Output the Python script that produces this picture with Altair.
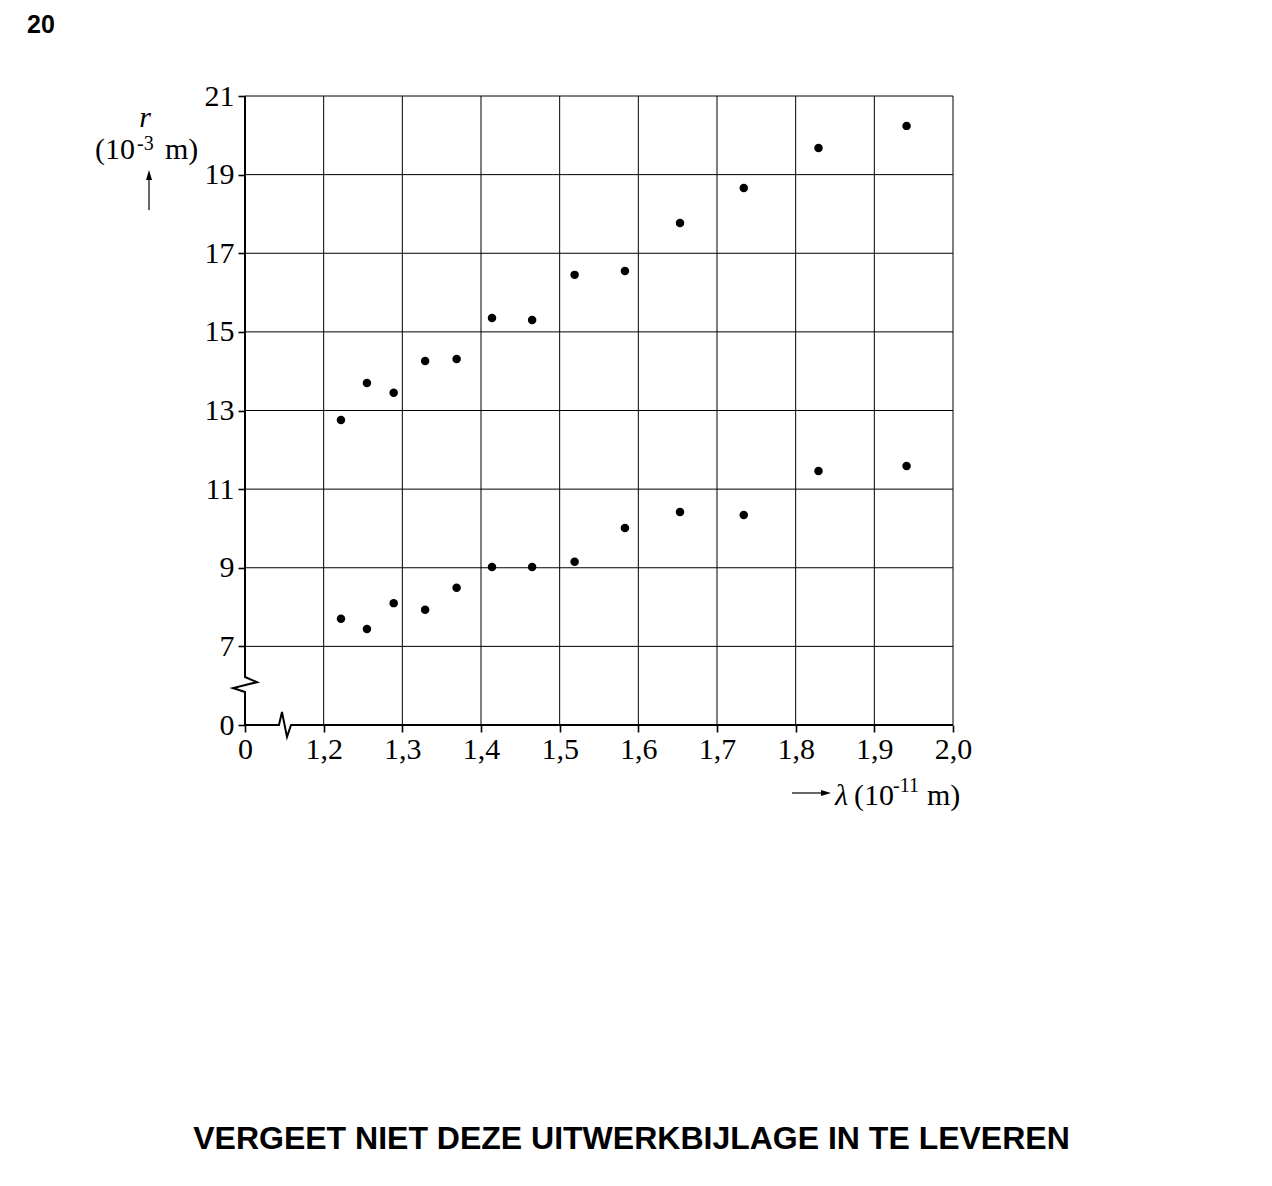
import altair as alt
import pandas as pd

# ---- data ----
lam = [1.222, 1.255, 1.289, 1.329, 1.369, 1.414, 1.465, 1.519, 1.583, 1.653, 1.734, 1.829, 1.941]
r_upper = [12.76, 13.70, 13.45, 14.26, 14.31, 15.35, 15.30, 16.45, 16.55, 17.77, 18.66, 19.68, 20.24]
r_lower = [7.70, 7.44, 8.10, 7.93, 8.49, 9.02, 9.02, 9.15, 10.01, 10.42, 10.34, 11.46, 11.59]

x_ticks = [1.1, 1.2, 1.3, 1.4, 1.5, 1.6, 1.7, 1.8, 1.9, 2.0]
y_ticks = [5, 7, 9, 11, 13, 15, 17, 19, 21]
x_grid = [1.2, 1.3, 1.4, 1.5, 1.6, 1.7, 1.8, 1.9, 2.0]
y_grid = [7, 9, 11, 13, 15, 17, 19, 21]

# axis lines with break symbols (in data units)
yaxis_x = [1.1, 1.1, 1.1152, 1.0848, 1.1, 1.1]
yaxis_y = [21, 6.22, 6.09, 5.94, 5.84, 5]
xaxis_x = [1.1, 1.1432, 1.147, 1.1534, 1.1585, 2.0]
xaxis_y = [5, 5, 5.33, 4.695, 5, 5]

W, H = 708, 629
SERIF = "Liberation Serif"
SANS = "Liberation Sans"

xs = alt.Scale(domain=[1.1, 2.0], nice=False, zero=False)
ys = alt.Scale(domain=[5, 21], nice=False, zero=False)

x_axis = alt.Axis(
    values=x_ticks,
    labelExpr="datum.value < 1.15 ? '0' : replace(format(datum.value, '.1f'), '.', ',')",
    title=None, domain=False, grid=False, ticks=True, tickSize=7, tickWidth=1.6,
    tickColor="black", labelFont=SERIF, labelFontSize=30, labelColor="black",
    labelPadding=2, labelOverlap=False, labelFlush=False)
y_axis = alt.Axis(
    values=y_ticks,
    labelExpr="datum.value < 6 ? '0' : format(datum.value, 'd')",
    title=None, domain=False, grid=False, ticks=True, tickSize=7, tickWidth=1.6,
    tickColor="black", labelFont=SERIF, labelFontSize=30, labelColor="black",
    labelPadding=4, labelOverlap=False, labelFlush=False)

pts = pd.DataFrame({"lam": lam + lam, "r": r_upper + r_lower})

vgrid = alt.Chart(pd.DataFrame({"gx": x_grid})).mark_rule(color="black", strokeWidth=1).encode(
    x=alt.X("gx:Q", scale=xs, axis=x_axis))
hgrid = alt.Chart(pd.DataFrame({"gy": y_grid})).mark_rule(color="black", strokeWidth=1).encode(
    y=alt.Y("gy:Q", scale=ys, axis=y_axis))

brk = pd.DataFrame({
    "bx": yaxis_x + xaxis_x,
    "by": yaxis_y + xaxis_y,
    "seg": ["y"] * len(yaxis_x) + ["x"] * len(xaxis_x),
    "i": list(range(len(yaxis_x))) + list(range(len(xaxis_x))),
})
axis_lines = alt.Chart(brk).mark_line(color="black", strokeWidth=2, strokeJoin="miter").encode(
    x=alt.X("bx:Q", scale=xs, axis=x_axis),
    y=alt.Y("by:Q", scale=ys, axis=y_axis),
    detail="seg:N",
    order="i:Q",
)

points = alt.Chart(pts).mark_circle(size=72, color="black", opacity=1).encode(
    x=alt.X("lam:Q", scale=xs, axis=x_axis),
    y=alt.Y("r:Q", scale=ys, axis=y_axis),
)

one = pd.DataFrame({"a": [0]})


def txt(s, x, y, size=30, font=SERIF, style="normal", weight="normal", align="left"):
    return alt.Chart(one).mark_text(
        text=s, font=font, fontSize=size, fontStyle=style, fontWeight=weight,
        align=align, baseline="alphabetic", color="black",
    ).encode(x=alt.value(x), y=alt.value(y))


# offsets: plot origin is at page (245, 96)
texts = [
    txt("20", -218, -63, size=25, font=SANS, weight="bold"),
    txt("VERGEET NIET DEZE UITWERKBIJLAGE IN TE LEVEREN", 386.5, 1053, size=32,
        font=SANS, weight="bold", align="center"),
    # y title
    txt("r", -100, 31, style="italic", align="center"),
    txt("(10", -150, 63),
    txt("-3", -108, 54, size=20),
    txt("m)", -80, 63),
    # x title
    txt("\u03bb", 590, 709, style="italic"),
    txt("(10", 609, 709),
    txt("-11", 648, 696, size=20),
    txt("m)", 682, 709),
]

up_shaft = alt.Chart(one).mark_rule(color="black", strokeWidth=1.2).encode(
    x=alt.value(-96), y=alt.value(82), y2=alt.value(114))
up_head = alt.Chart(one).mark_point(
    shape="M0,-1L0.6,1L-0.6,1Z", filled=True, size=100, color="black", opacity=1, strokeWidth=0
).encode(x=alt.value(-96), y=alt.value(79))

rt_shaft = alt.Chart(one).mark_rule(color="black", strokeWidth=1.2).encode(
    x=alt.value(547), x2=alt.value(578), y=alt.value(697))
rt_head = alt.Chart(one).mark_point(
    shape="M1,0L-1,0.6L-1,-0.6Z", filled=True, size=100, color="black", opacity=1, strokeWidth=0
).encode(x=alt.value(581), y=alt.value(697))

chart = alt.layer(
    vgrid, hgrid, axis_lines, points, up_shaft, up_head, rt_shaft, rt_head, *texts
).properties(
    width=W, height=H,
    autosize=alt.AutoSizeParams(type="none"),
    padding={"left": 237, "top": 88, "right": 300, "bottom": 440},
    background="white",
).configure_view(stroke=None)

chart.save("out.html", embed_options={"renderer": "svg", "actions": False})
